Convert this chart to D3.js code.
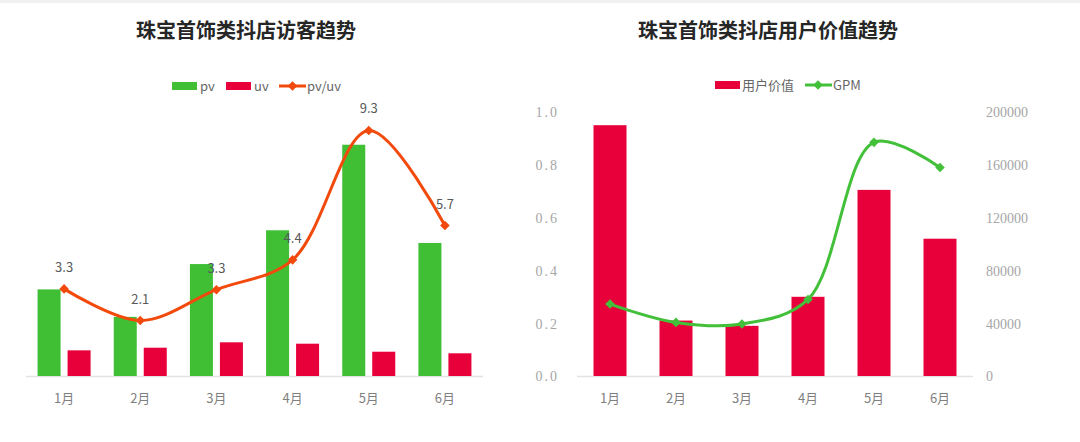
<!DOCTYPE html>
<html><head><meta charset="utf-8">
<script src="https://cdn.jsdelivr.net/npm/d3@7"></script>
<style>
html,body{margin:0;padding:0;background:#fff;}
svg{display:block;}
</style></head>
<body>
<svg id="c" width="1080" height="442"></svg>
<script>
// ---- data ----
const months = ["1月","2月","3月","4月","5月","6月"];
const pv = [8200, 5600, 10600, 13800, 21900, 12600];
const uv = [2430, 2680, 3190, 3060, 2300, 2150];
const pvuv = [3.3, 2.1, 3.27, 4.4, 9.3, 5.7];
const pvuvLabels = ["3.3","2.1","3.3","4.4","9.3","5.7"];
const userValue = [0.95, 0.21, 0.19, 0.30, 0.705, 0.52];
const gpm = [54500, 40600, 39400, 58000, 177000, 157900];
const leftTicks = [0, 0.2, 0.4, 0.6, 0.8, 1.0];
const rightTicks = [0, 40000, 80000, 120000, 160000, 200000];
const title1 = "珠宝首饰类抖店访客趋势";
const title2 = "珠宝首饰类抖店用户价值趋势";

const GREEN = "#40bf35", RED = "#e8003a", ORANGE = "#f24a0c", LINEGREEN = "#43c03a";
const CJK = "'Noto Sans CJK SC','Noto Sans',sans-serif";
const SERIF = "'Liberation Serif','DejaVu Serif',serif";

const svg = d3.select("#c");
svg.append("rect").attr("x",0).attr("y",0).attr("width",1080).attr("height",3).attr("fill","#f0f0f0");

const baseY = 376, topY = 112;

function diamond(g, pts, color){
  g.selectAll(null).data(pts).join("path")
    .attr("d", d3.symbol(d3.symbolSquare, 46)())
    .attr("transform", d => `translate(${d[0]},${d[1]}) rotate(45)`)
    .attr("fill", color);
}

// ===== Left chart =====
{
  const g = svg.append("g");
  g.append("text").attr("x",246).attr("y",38).attr("text-anchor","middle")
    .attr("font-family",CJK).attr("font-weight","bold").attr("font-size",20).attr("fill","#262626").text(title1);

  const x = d3.scaleBand().domain(months).range([26,483]);
  const x1 = d3.scaleBand().domain(["pv","uv"]).range([0,x.bandwidth()]).paddingInner(0.233).paddingOuter(0.386);
  const y = d3.scaleLinear().domain([0,25000]).range([baseY, topY]);
  const y2 = d3.scaleLinear().domain([0,10]).range([baseY, topY]);

  g.append("line").attr("x1",26).attr("x2",483).attr("y1",baseY+0.5).attr("y2",baseY+0.5).attr("stroke","#e3e3e3").attr("stroke-width",1.5);

  g.selectAll(".pv").data(pv).join("rect")
    .attr("x",(d,i)=>x(months[i])+x1("pv")).attr("width",x1.bandwidth())
    .attr("y",d=>y(d)).attr("height",d=>baseY-y(d)).attr("fill",GREEN);
  g.selectAll(".uv").data(uv).join("rect")
    .attr("x",(d,i)=>x(months[i])+x1("uv")).attr("width",x1.bandwidth())
    .attr("y",d=>y(d)).attr("height",d=>baseY-y(d)).attr("fill",RED);

  const pts = pvuv.map((d,i)=>[x(months[i])+x.bandwidth()/2, y2(d)]);
  g.append("path").attr("d", d3.line().curve(d3.curveCatmullRom.alpha(0.5))(pts))
    .attr("fill","none").attr("stroke",ORANGE).attr("stroke-width",3);
  diamond(g, pts, ORANGE);
  g.selectAll(".lbl").data(pvuvLabels).join("text")
    .attr("x",(d,i)=>pts[i][0]).attr("y",(d,i)=>pts[i][1]-17)
    .attr("text-anchor","middle").attr("font-family",CJK).attr("font-size",13).attr("fill","#595959").text(d=>d);

  g.selectAll(".xl").data(months).join("text")
    .attr("x",d=>x(d)+x.bandwidth()/2).attr("y",403).attr("text-anchor","middle")
    .attr("font-family",CJK).attr("font-size",13).attr("fill","#7f7f7f").text(d=>d);

  // legend
  const lg = g.append("g").attr("font-family",CJK).attr("font-size",13).attr("fill","#666");
  lg.append("rect").attr("x",172).attr("y",82).attr("width",25).attr("height",8).attr("fill",GREEN);
  lg.append("text").attr("x",200).attr("y",91).text("pv");
  lg.append("rect").attr("x",226).attr("y",82).attr("width",25).attr("height",8).attr("fill",RED);
  lg.append("text").attr("x",254).attr("y",91).text("uv");
  lg.append("line").attr("x1",279).attr("x2",306).attr("y1",86).attr("y2",86).attr("stroke",ORANGE).attr("stroke-width",3);
  diamond(lg, [[292.5,86]], ORANGE);
  lg.append("text").attr("x",307).attr("y",91).text("pv/uv");
}

// ===== Right chart =====
{
  const g = svg.append("g");
  g.append("text").attr("x",768).attr("y",38).attr("text-anchor","middle")
    .attr("font-family",CJK).attr("font-weight","bold").attr("font-size",20).attr("fill","#262626").text(title2);

  const x = d3.scaleBand().domain(months).range([577,973]).paddingInner(0.5).paddingOuter(0.25);
  const yL = d3.scaleLinear().domain([0,1]).range([baseY, topY]);
  const yR = d3.scaleLinear().domain([0,200000]).range([baseY, topY]);

  g.append("line").attr("x1",577).attr("x2",973).attr("y1",baseY+0.5).attr("y2",baseY+0.5).attr("stroke","#e3e3e3").attr("stroke-width",1.5);

  g.selectAll(".bar").data(userValue).join("rect")
    .attr("x",(d,i)=>x(months[i])).attr("width",x.bandwidth())
    .attr("y",d=>yL(d)).attr("height",d=>baseY-yL(d)).attr("fill",RED);

  const pts = gpm.map((d,i)=>[x(months[i])+x.bandwidth()/2, yR(d)]);
  g.append("path").attr("d", d3.line().curve(d3.curveCatmullRom.alpha(0.5))(pts))
    .attr("fill","none").attr("stroke",LINEGREEN).attr("stroke-width",3);
  diamond(g, pts, LINEGREEN);

  // axes
  const axL = d3.axisLeft(yL).tickValues(leftTicks).tickFormat(d3.format(".1f")).tickSize(0).tickPadding(0);
  const gl = g.append("g").attr("transform","translate(559,0)").call(axL);
  gl.select(".domain").remove();
  gl.selectAll("text").attr("font-family",SERIF).attr("font-size",14).attr("fill","#a6a6a6").attr("letter-spacing","2px").attr("dy","0.35em");

  const axR = d3.axisRight(yR).tickValues(rightTicks).tickFormat(d3.format("d")).tickSize(0).tickPadding(0);
  const gr = g.append("g").attr("transform","translate(986,0)").call(axR);
  gr.select(".domain").remove();
  gr.selectAll("text").attr("font-family",SERIF).attr("font-size",14).attr("fill","#a6a6a6").attr("dy","0.35em");

  g.selectAll(".xl").data(months).join("text")
    .attr("x",d=>x(d)+x.bandwidth()/2).attr("y",403).attr("text-anchor","middle")
    .attr("font-family",CJK).attr("font-size",13).attr("fill","#7f7f7f").text(d=>d);

  const lg = g.append("g").attr("font-family",CJK).attr("font-size",13).attr("fill","#666");
  lg.append("rect").attr("x",715).attr("y",81).attr("width",25).attr("height",8).attr("fill",RED);
  lg.append("text").attr("x",742).attr("y",90).text("用户价值");
  lg.append("line").attr("x1",805).attr("x2",832).attr("y1",85).attr("y2",85).attr("stroke",LINEGREEN).attr("stroke-width",3);
  diamond(lg, [[818,85]], LINEGREEN);
  lg.append("text").attr("x",833).attr("y",90).text("GPM");
}
</script>
</body></html>
